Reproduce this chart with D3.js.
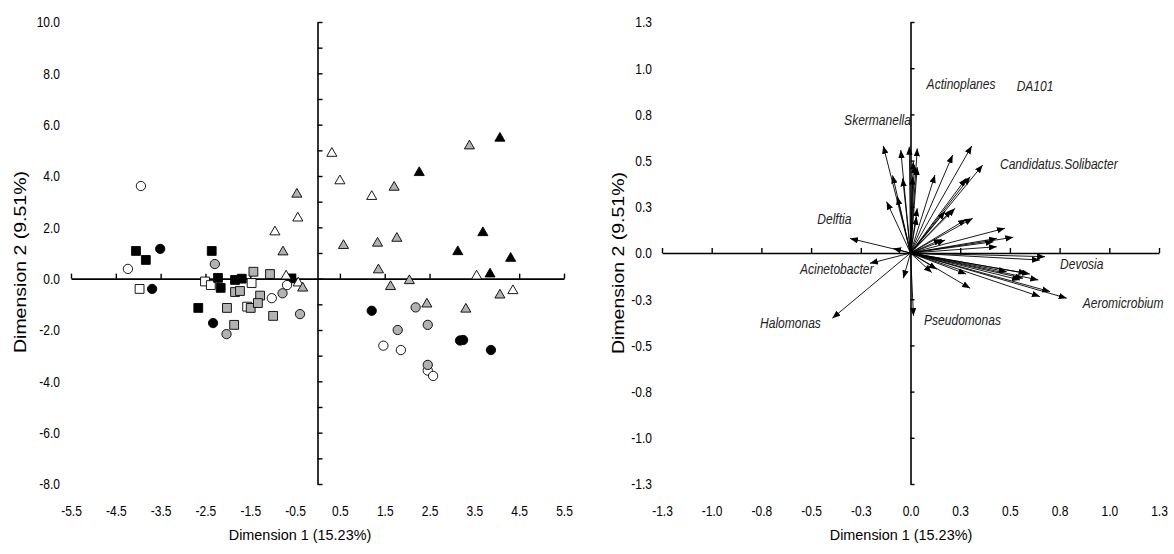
<!DOCTYPE html>
<html>
<head>
<meta charset="utf-8">
<script src="https://cdn.jsdelivr.net/npm/d3@7"></script>
<style>
  body { margin: 0; background: #fff; }
  svg { display: block; }
</style>
</head>
<body>
<div id="chart"></div>
<script>
// ---- data: sample scores (left panel), grouped by symbol ----
const openSquares  = [[-3.97,-0.40],[-2.51,-0.11],[-2.38,-0.25],[-1.47,-0.17],[-1.57,-1.09]];
const greySquares  = [[-2.02,-1.14],[-1.86,-1.80],[-1.84,-0.52],[-1.73,-0.48],[-1.43,0.27],[-1.28,-0.66],
                      [-1.49,-1.14],[-1.33,-0.95],[-1.06,0.18],[-0.99,-1.45]];
const blackSquares = [[-4.05,1.08],[-3.83,0.73],[-2.36,1.08],[-2.22,0.03],[-2.16,-0.36],[-2.66,-1.14],
                      [-1.84,-0.05],[-1.69,0.00],[-0.59,0.01]];
const openCircles  = [[-3.94,3.61],[-4.23,0.38],[-1.02,-0.76],[-0.68,-0.25],[1.47,-2.61],[1.86,-2.78],
                      [2.46,-3.58],[2.58,-3.79]];
const greyCircles  = [[-2.29,0.57],[-2.03,-2.16],[-0.78,-0.57],[-0.39,-1.38],[2.19,-1.12],[1.79,-2.00],
                      [2.46,-1.80],[2.46,-3.36]];
const blackCircles = [[-3.51,1.16],[-3.69,-0.40],[-2.33,-1.73],[1.21,-1.25],[3.18,-2.41],[3.25,-2.39],[3.87,-2.78]];
const openTriangles  = [[0.32,4.88],[0.50,3.81],[1.21,3.20],[-0.44,2.36],[-0.95,1.82],[-0.70,0.10],
                        [-0.43,-0.17],[3.55,0.10],[4.36,-0.47]];
const greyTriangles  = [[-0.46,3.29],[-0.77,1.04],[1.71,3.56],[3.39,5.17],[0.58,1.29],[1.34,1.38],[1.77,1.57],
                        [1.36,0.34],[2.05,-0.08],[1.63,-0.31],[4.07,-0.64],[2.44,-0.99],[3.31,-1.19],[-0.33,-0.37]];
const blackTriangles = [[2.27,4.13],[4.07,5.47],[3.69,1.79],[3.13,1.05],[4.31,0.79],[3.85,0.18]];

// ---- data: genus loadings (right panel) ----
const loadings = [
  [-0.137,0.580],[-0.049,0.557],[-0.006,0.575],[0.034,0.566],[-0.090,0.420],[-0.039,0.404],
  [-0.120,0.278],[-0.066,0.305],[0.014,0.494],[0.034,0.464],[0.011,0.413],[0.034,0.242],
  [0.020,0.476],[0.031,0.196],
  [0.123,0.422],[0.212,0.530],[0.308,0.579],[0.363,0.476],[0.280,0.404],[0.300,0.413],
  [0.224,0.242],[0.207,0.233],[0.174,0.224],[0.280,0.182],[0.313,0.188],[0.475,0.134],
  [0.517,0.085],[0.434,0.079],[0.417,0.061],[0.434,0.034],[0.157,0.074],[0.174,0.070],
  [0.677,-0.020],[0.651,-0.038],[0.107,-0.106],[0.132,-0.088],[0.280,-0.114],[0.300,-0.191],
  [0.484,-0.101],[0.584,-0.110],[0.601,-0.114],[0.643,-0.146],[0.551,-0.146],[0.566,-0.137],
  [0.702,-0.209],[0.651,-0.236],[0.786,-0.245],
  [-0.036,-0.137],[-0.204,-0.056],[-0.087,0.025],[0.015,-0.340],[-0.304,0.079],[-0.393,-0.353]
];
const genusNames = ["Actinoplanes","DA101","Skermanella","Candidatus.Solibacter","Delftia",
                    "Acinetobacter","Devosia","Aeromicrobium","Pseudomonas","Halomonas"];
const genusLabelX = [0.081,0.534,-0.334,0.450,-0.469,-0.556,0.752,0.866,0.068,-0.757];
const genusLabelY = [0.887,0.877,0.693,0.455,0.157,-0.114,-0.087,-0.295,-0.390,-0.406];

// ---- ticks ----
const leftXTicks = [-5.5,-4.5,-3.5,-2.5,-1.5,-0.5,0.5,1.5,2.5,3.5,4.5,5.5];
const leftXTickLabels = ["-5.5","-4.5","-3.5","-2.5","-1.5","-0.5","0.5","1.5","2.5","3.5","4.5","5.5"];
const leftYTicks = [-8,-7,-6,-5,-4,-3,-2,-1,0,1,2,3,4,5,6,7,8,9,10];
const leftYLabelTicks = [-8,-6,-4,-2,0,2,4,6,8,10];
const leftYTickLabels = ["-8.0","-6.0","-4.0","-2.0","0.0","2.0","4.0","6.0","8.0","10.0"];
const rightTicks = [-1.25,-1,-0.75,-0.5,-0.25,0,0.25,0.5,0.75,1,1.25];
const rightTickLabels = ["-1.3","-1.0","-0.8","-0.5","-0.3","0.0","0.3","0.5","0.8","1.0","1.3"];

const xTitle = "Dimension 1 (15.23%)";
const yTitle = "Dimension 2 (9.51%)";

const W = 1174, H = 554;
const FONT = "'Liberation Sans', Arial, sans-serif";
const GREY = "#b2b2b2";

const svg = d3.select("#chart").append("svg").attr("width", W).attr("height", H);

// arrow head
svg.append("defs").append("marker")
    .attr("id", "head")
    .attr("viewBox", "0 0 10 8")
    .attr("refX", 10).attr("refY", 4)
    .attr("markerWidth", 8).attr("markerHeight", 6.4)
    .attr("markerUnits", "userSpaceOnUse")
    .attr("orient", "auto")
    .append("path").attr("d", "M0,0L10,4L0,8Z").attr("fill", "#000");

// scales
const lx = d3.scaleLinear().domain([-5.5, 5.5]).range([71, 564]);
const ly = d3.scaleLinear().domain([-8, 10]).range([484, 22]);
const rx = d3.scaleLinear().domain([-1.25, 1.25]).range([662, 1159]);
const ry = d3.scaleLinear().domain([-1.25, 1.25]).range([484, 22]);

// crossing axes through the origin, labels at the panel edges
function drawAxes(x, y, xTicks, yTicks, xLabTicks, xLabs, yLabTicks, yLabs, yLabRight, yTickLen) {
    // horizontal axis line + upward ticks
    const gx = svg.append("g")
        .attr("transform", `translate(0,${y(0)})`)
        .call(d3.axisTop(x).tickValues(xTicks).tickSize(5).tickSizeOuter(0).tickFormat(""));
    // vertical axis line + right-pointing ticks
    const gy = svg.append("g")
        .attr("transform", `translate(${x(0)},0)`)
        .call(d3.axisRight(y).tickValues(yTicks).tickSize(yTickLen).tickSizeOuter(0).tickFormat(""));
    [gx, gy].forEach(g => {
        g.select(".domain").attr("stroke", "#000").attr("stroke-width", 1.6);
        g.selectAll(".tick line").attr("stroke", "#000").attr("stroke-width", 1.4);
    });

    // tick labels along the bottom
    const bx = svg.append("g")
        .attr("transform", "translate(0,505)")
        .call(d3.axisBottom(x).tickValues(xLabTicks).tickSize(0).tickPadding(0)
            .tickFormat((d, i) => xLabs[i]));
    // tick labels at the left
    const by = svg.append("g")
        .attr("transform", `translate(${yLabRight},0)`)
        .call(d3.axisLeft(y).tickValues(yLabTicks).tickSize(0).tickPadding(0)
            .tickFormat((d, i) => yLabs[i]));
    [bx, by].forEach(g => {
        g.select(".domain").remove();
        g.attr("font-family", FONT).attr("font-size", 15);
        g.selectAll("text").attr("fill", "#000").attr("transform", "scale(0.8,1)");
    });
    by.selectAll("text").attr("x", 0);
}

function titles(cx, cyTitleX, yx, yy) {
    svg.append("text")
        .attr("transform", `translate(${cx},540) scale(0.93,1)`)
        .attr("text-anchor", "middle")
        .attr("font-family", FONT).attr("font-size", 15.5)
        .text(xTitle);
    svg.append("text")
        .attr("transform", `translate(${yx},${yy}) rotate(-90) scale(1.22,1)`)
        .attr("text-anchor", "middle")
        .attr("font-family", FONT).attr("font-size", 16)
        .text(yTitle);
}

// ---------------- left panel ----------------
drawAxes(lx, ly, leftXTicks, leftYTicks, leftXTicks, leftXTickLabels,
         leftYLabelTicks, leftYTickLabels, 60, 5);
titles(300, 540, 26, 262);

const series = [
    { pts: openSquares,   shape: d3.symbolSquare,   size: 78, fill: "#fff" },
    { pts: greySquares,   shape: d3.symbolSquare,   size: 78, fill: GREY },
    { pts: blackSquares,  shape: d3.symbolSquare,   size: 78, fill: "#000" },
    { pts: openCircles,   shape: d3.symbolCircle,   size: 68, fill: "#fff" },
    { pts: greyCircles,   shape: d3.symbolCircle,   size: 68, fill: GREY },
    { pts: blackCircles,  shape: d3.symbolCircle,   size: 68, fill: "#000" },
    { pts: openTriangles, shape: d3.symbolTriangle, size: 44, fill: "#fff" },
    { pts: greyTriangles, shape: d3.symbolTriangle, size: 44, fill: GREY },
    { pts: blackTriangles,shape: d3.symbolTriangle, size: 44, fill: "#000" }
];

series.forEach(s => {
    svg.append("g").selectAll("path")
        .data(s.pts)
        .enter()
        .append("path")
        .attr("transform", d => `translate(${lx(d[0])},${ly(d[1])})`)
        .attr("d", d3.symbol().type(s.shape).size(s.size))
        .attr("fill", s.fill)
        .attr("stroke", "#000")
        .attr("stroke-width", 0.9);
});

// ---------------- right panel ----------------
drawAxes(rx, ry, rightTicks, rightTicks, rightTicks, rightTickLabels,
         rightTicks, rightTickLabels, 652, 4);
titles(901, 540, 624, 263);

svg.append("g").selectAll("line")
    .data(loadings)
    .enter()
    .append("line")
    .attr("x1", rx(0)).attr("y1", ry(0))
    .attr("x2", d => rx(d[0])).attr("y2", d => ry(d[1]))
    .attr("stroke", "#000")
    .attr("stroke-width", 0.9)
    .attr("marker-end", "url(#head)");

svg.append("g").selectAll("text")
    .data(genusNames)
    .enter()
    .append("text")
    .attr("transform", (d, i) => `translate(${rx(genusLabelX[i])},${ry(genusLabelY[i])}) scale(0.86,1)`)
    .attr("font-family", FONT)
    .attr("font-style", "italic")
    .attr("font-size", 14)
    .attr("fill", "#222")
    .text(d => d);
</script>
</body>
</html>
